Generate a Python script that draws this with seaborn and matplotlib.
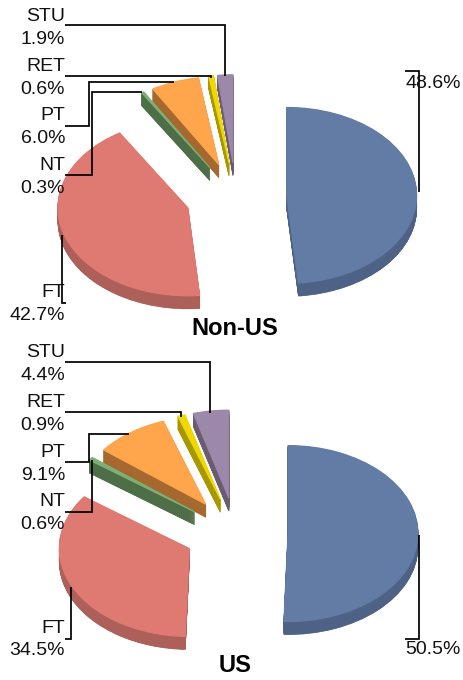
import matplotlib
matplotlib.use('Agg')
import matplotlib.pyplot as plt
import seaborn as sns

categories = ['Other', 'FT', 'NT', 'PT', 'RET', 'STU']
non_us_values = [48.6, 42.7, 0.3, 6.0, 0.6, 1.9]
us_values = [50.5, 34.5, 0.6, 9.1, 0.9, 4.4]

top_colors = ['#627CA5', '#DF7A73', '#7DB077', '#FFA64D', '#F0D800', '#9C88A8']
side_colors = ['#4E6285', '#AD5F59', '#4E6E47', '#A5682F', '#A89800', '#6A5B72']

W, H = 463, 680
RX, RY = 130, 88  # pie radius in pixels, squashed for the 3d look
DEPTH = 13

sns.set_theme(style='white')
plt.rcParams['font.family'] = ['Liberation Sans', 'DejaVu Sans']

fig = plt.figure(figsize=(W / 100, H / 100), dpi=100)


def draw_pie(values, cx, cy, explode):
    # axes is 4 radii wide and high, centred on the pie centre
    rect = [(cx - 2 * RX) / W, 1 - (cy + 2 * RY) / H, 4 * RX / W, 4 * RY / H]
    ax = fig.add_axes(rect)
    ax.patch.set_alpha(0)
    # half pixel steps so the side walls come out solid
    for k in range(2 * DEPTH, -1, -1):
        colors = top_colors if k == 0 else side_colors
        wedges, _ = ax.pie(values, colors=colors, explode=[explode] * len(values),
                           startangle=90, counterclock=False, center=(0, -(k + 1) / 2 / RY))
        # thin edge in the wedge colour, otherwise the tiny slices fade out
        for w, c in zip(wedges, colors):
            w.set_edgecolor(c)
            w.set_linewidth(0.8 if k == 0 else 0.5)
    ax.set_aspect('auto')
    ax.set_xlim(-2, 2)
    ax.set_ylim(-2, 2)
    ax.axis('off')


draw_pie(non_us_values, 236, 196.5, 0.39)
draw_pie(us_values, 236, 532.5, 0.40)

# overlay in pixel coords for the labels and leader lines
over = fig.add_axes([0, 0, 1, 1])
over.set_xlim(0, W)
over.set_ylim(H, 0)
over.axis('off')
over.patch.set_alpha(0)

leaders = [
    [(65, 25), (224.5, 25), (224.5, 76)],
    [(65, 76), (211, 76), (211, 78)],
    [(65, 125.5), (89, 125.5), (89, 82), (174, 82)],
    [(65, 175), (91.5, 175), (91.5, 92), (142, 92)],
    [(62, 235), (62, 302.5), (66, 302.5)],
    [(405, 71), (418.5, 71), (418.5, 192)],
    [(65, 362), (210, 362), (210, 413)],
    [(65, 412), (180.5, 412), (180.5, 417)],
    [(65, 462), (89, 462), (89, 433.5), (129, 433.5)],
    [(65, 512), (91.5, 512), (91.5, 460)],
    [(71, 587), (71, 638.5), (65, 638.5)],
    [(418.5, 535), (418.5, 638.5), (405, 638.5)],
]
for line in leaders:
    over.plot([p[0] for p in line], [p[1] for p in line], color='black', lw=1.25,
              solid_joinstyle='miter', solid_capstyle='butt')

label_y_non_us = [None, 304, 177, 127, 78, 28]
label_y_us = [None, 639.5, 513, 464, 414, 364]
for vals, ys in [(non_us_values, label_y_non_us), (us_values, label_y_us)]:
    for name, val, y in zip(categories[1:], vals[1:], ys[1:]):
        over.text(65, y, f"{name}\n{val:.1f}%", ha='right', va='center', fontsize=14,
                  color='#111111', linespacing=1.4)

over.text(461, 83, f"{non_us_values[0]:.1f}%", ha='right', va='center', fontsize=14, color='#111111')
over.text(461, 649, f"{us_values[0]:.1f}%", ha='right', va='center', fontsize=14, color='#111111')

over.text(235, 328.5, 'Non-US', ha='center', va='center', fontsize=17, fontweight='bold', color='black')
over.text(235, 665.5, 'US', ha='center', va='center', fontsize=17, fontweight='bold', color='black')

plt.savefig('out.png', dpi=100)
plt.close()
